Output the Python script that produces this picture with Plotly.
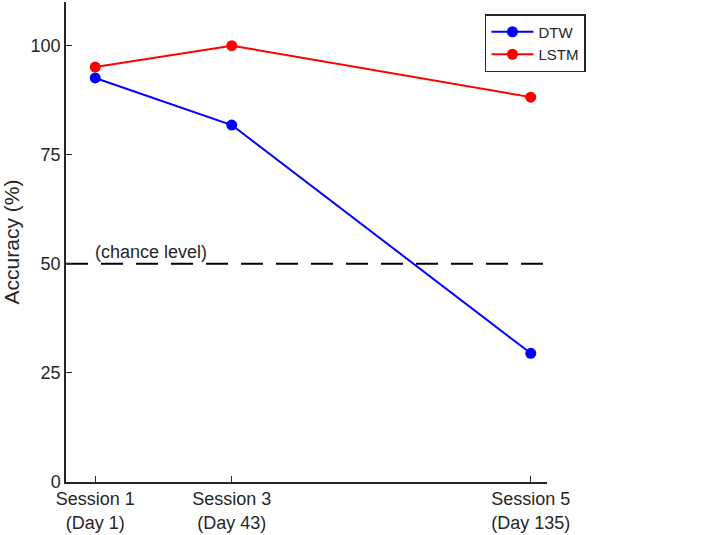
import plotly.graph_objects as go

days = [1, 43, 135]
tick_labels = ["Session 1<br>(Day 1)", "Session 3<br>(Day 43)", "Session 5<br>(Day 135)"]
dtw = [92.6, 81.8, 29.5]
lstm = [95.1, 100.0, 88.2]
chance = 50
y_ticks = [0, 25, 50, 75, 100]

FONT = "Liberation Sans, Arial, sans-serif"
AX = "#262626"

fig = go.Figure()
fig.add_trace(go.Scatter(x=days, y=dtw, name="DTW", mode="lines+markers",
                         line=dict(color="#0000ff", width=2),
                         marker=dict(color="#0000ff", size=11)))
fig.add_trace(go.Scatter(x=days, y=lstm, name="LSTM", mode="lines+markers",
                         line=dict(color="#ff0000", width=2),
                         marker=dict(color="#ff0000", size=11)))

fig.add_shape(type="line", xref="paper", x0=0, x1=1, yref="y", y0=chance, y1=chance,
              line=dict(color="black", width=2, dash="22px,13px"), layer="below")
fig.add_annotation(x=days[0] - 0.8, y=chance, xref="x", yref="y", text="(chance level)",
                   showarrow=False, xanchor="left", yanchor="bottom", yshift=0,
                   font=dict(size=18, color=AX, family=FONT))

fig.update_layout(
    width=709, height=535,
    margin=dict(l=66, r=162, t=2, b=53),
    paper_bgcolor="white", plot_bgcolor="white",
    font=dict(family=FONT, size=18, color=AX),
    showlegend=True,
    legend=dict(x=0.871, y=0.975, xanchor="left", yanchor="top",
                bordercolor=AX, borderwidth=1.5, bgcolor="white",
                font=dict(size=15, color=AX, family=FONT),
                itemwidth=42, tracegroupgap=0),
)
fig.update_xaxes(range=[-8, 140], tickvals=days, ticktext=tick_labels,
                 showline=True, linecolor=AX, linewidth=1.5, ticks="inside", ticklen=6,
                 tickcolor=AX, tickwidth=1, showgrid=False, zeroline=False,
                 tickfont=dict(size=18, color=AX, family=FONT))
fig.update_yaxes(range=[0, 110], tickvals=y_ticks,
                 showline=True, linecolor=AX, linewidth=1.5, ticks="inside", ticklen=6,
                 tickcolor=AX, tickwidth=1, showgrid=False, zeroline=False,
                 title=dict(text="Accuracy (%)", font=dict(size=21, color=AX, family=FONT), standoff=6),
                 tickfont=dict(size=18, color=AX, family=FONT))

fig.write_html("out.html", config={"displayModeBar": False},
               post_script="document.body.style.margin='0';")
